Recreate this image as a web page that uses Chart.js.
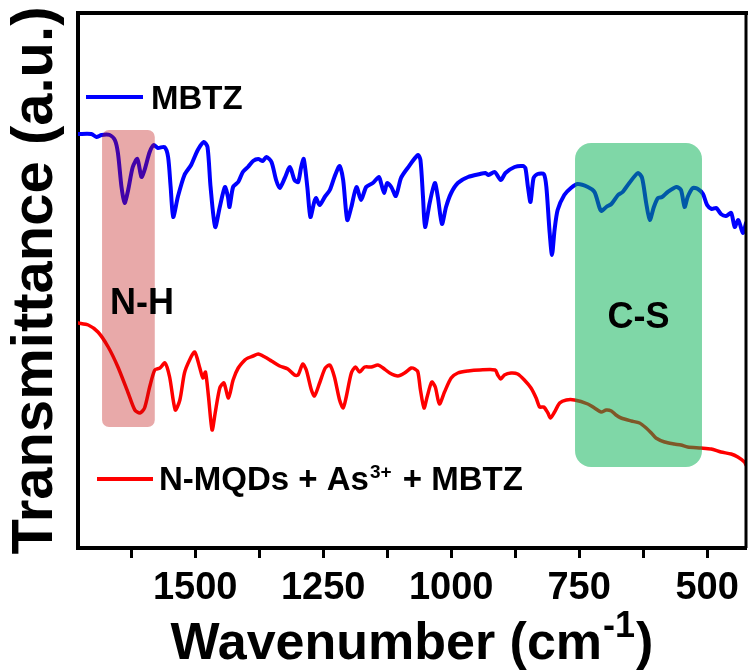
<!DOCTYPE html>
<html>
<head>
<meta charset="utf-8">
<script src="https://cdn.jsdelivr.net/npm/chart.js@4.4.1/dist/chart.umd.min.js"></script>
<style>
  html, body { margin: 0; padding: 0; background: #fff; }
  canvas { display: block; }
</style>
</head>
<body>
<canvas id="ftir" width="750" height="671"></canvas>
<script>
// FTIR spectra, wavenumber (cm-1) vs transmittance (a.u.)
const waveMBTZ = [
  1729, 1703, 1693, 1683, 1667, 1657, 1651, 1644, 1638, 1631,
  1622, 1613, 1605, 1599, 1589, 1581, 1573, 1560, 1553, 1548,
  1543, 1534, 1521, 1508, 1495, 1483, 1476, 1470, 1461, 1452,
  1442, 1436, 1433, 1426, 1416, 1407, 1397, 1387, 1377, 1368,
  1361, 1351, 1342, 1335, 1325, 1315, 1306, 1299, 1293, 1288,
  1281, 1275, 1268, 1264, 1257, 1247, 1237, 1228, 1218, 1211,
  1203, 1195, 1185, 1176, 1166, 1153, 1141, 1137, 1131, 1125,
  1117, 1108, 1098, 1085, 1065, 1060, 1055, 1051, 1042, 1032,
  1026, 1018, 1010, 1000, 987, 967, 944, 933, 927, 915,
  903, 894, 876, 860, 855, 850, 845, 839, 831, 819,
  814, 808, 803, 798, 792, 779, 766, 753, 733, 720,
  710, 706, 697, 687, 674, 665, 652, 635, 627, 619,
  612, 604, 596, 588, 577, 560, 551, 544, 538, 528,
  518, 508, 500, 491, 482, 473, 463, 453, 446, 439,
  430, 424
];
const tMBTZ = [
  414, 414, 411, 413, 413, 408, 395, 361, 345, 358,
  381, 389, 371, 378, 396, 403, 400, 401, 391, 361,
  331, 351, 373, 383, 398, 406, 401, 361, 321, 341,
  361, 351, 341, 361, 366, 376, 381, 387, 389, 387,
  391, 386, 368, 360, 370, 381, 368, 366, 381, 389,
  361, 331, 345, 350, 343, 351, 358, 371, 382, 368,
  328, 341, 361, 348, 361, 365, 371, 365, 355, 365,
  361, 352, 370, 380, 393, 388, 351, 321, 345, 365,
  351, 324, 341, 355, 365, 371, 374, 375, 373, 376,
  368, 375, 381, 382, 380, 361, 346, 370, 374, 374,
  361, 318, 293, 318, 338, 353, 360, 364, 361, 356,
  340, 337, 341, 344, 353, 356, 365, 375, 370, 345,
  328, 341, 350, 351, 356, 361, 358, 341, 351, 360,
  359, 354, 343, 339, 340, 334, 332, 335, 321, 328,
  315, 325
];
const waveMix = [
  1729, 1709, 1690, 1670, 1651, 1631, 1618, 1608, 1599, 1589,
  1579, 1569, 1559, 1550, 1539, 1530, 1521, 1511, 1501, 1491,
  1485, 1480, 1474, 1467, 1461, 1452, 1444, 1435, 1426, 1416,
  1403, 1397, 1387, 1377, 1364, 1351, 1335, 1319, 1306, 1299,
  1290, 1283, 1273, 1267, 1257, 1246, 1237, 1228, 1218, 1211,
  1205, 1195, 1187, 1179, 1169, 1156, 1143, 1133, 1120, 1104,
  1091, 1078, 1071, 1065, 1060, 1053, 1047, 1038, 1031, 1023,
  1013, 1000, 987, 967, 944, 914, 909, 903, 896, 883,
  870, 857, 844, 834, 827, 819, 811, 806, 798, 788,
  775, 759, 733, 720, 707, 697, 687, 678, 668, 648,
  632, 619, 609, 600, 583, 564, 551, 538, 512, 492,
  473, 453, 440, 427, 424
];
const tMix = [
  225, 223, 216, 201, 181, 155, 138, 135, 140, 161,
  178, 180, 185, 171, 138, 148, 175, 188, 196, 180,
  170, 176, 151, 118, 135, 160, 165, 150, 168, 180,
  188, 190, 192, 194, 191, 187, 182, 179, 173, 173,
  184, 178, 158, 152, 165, 180, 183, 171, 148, 140,
  151, 175, 181, 176, 181, 181, 183, 180, 175, 172,
  175, 180, 179, 176, 158, 140, 151, 166, 161, 144,
  156, 170, 175, 177, 178, 178, 173, 169, 173, 175,
  174, 168, 160, 150, 141, 141, 135, 130, 136, 145,
  148, 148, 144, 140, 136, 138, 137, 133, 130, 127,
  125, 120, 115, 110, 106, 104, 103, 101, 100, 99,
  96, 94, 91, 86, 83
];
const tickVals = [1625, 1500, 1375, 1250, 1125, 1000, 875, 750, 625, 500];
const labelVals = [1500, 1250, 1000, 750, 500];

// shaded bands (wavenumber range, transmittance range)
const bandNames = ['N-H', 'C-S'];
const bandFrom = [1682, 758];
const bandTo = [1579, 510];
const bandLow = [121, 81];
const bandHigh = [418, 405];

const FONT = '"Liberation Sans", Arial, sans-serif';
const bandColors = ['rgba(190,10,10,0.35)', 'rgba(0,176,80,0.5)'];

const toPoints = (xs, ys) => xs.map((v, i) => ({x: v, y: ys[i]}));

const decor = {
  id: 'decor',
  afterDatasetsDraw(chart) {
    const {ctx, chartArea: a, scales: {x, y}} = chart;
    ctx.save();
    bandNames.forEach((name, i) => {
      const x0 = x.getPixelForValue(bandFrom[i]);
      const x1 = x.getPixelForValue(bandTo[i]);
      const y0 = y.getPixelForValue(bandHigh[i]);
      const y1 = y.getPixelForValue(bandLow[i]);
      ctx.fillStyle = bandColors[i];
      ctx.beginPath();
      ctx.roundRect(x0, y0, x1 - x0, y1 - y0, i === 0 ? 7 : 16);
      ctx.fill();
      ctx.fillStyle = '#000';
      ctx.font = 'bold 36px ' + FONT;
      ctx.textBaseline = 'alphabetic';
      if (i === 0) {
        ctx.textAlign = 'left';
        ctx.fillText(name, x0 + 8, y0 + 184);
      } else {
        ctx.textAlign = 'center';
        ctx.fillText(name, (x0 + x1) / 2, y0 + 185);
      }
    });

    // legend entries inside the plot
    ctx.lineWidth = 4;
    ctx.lineCap = 'butt';
    ctx.strokeStyle = '#0000ff';
    ctx.beginPath();
    ctx.moveTo(a.left + 8, 97);
    ctx.lineTo(a.left + 65, 97);
    ctx.stroke();
    ctx.strokeStyle = '#ff0000';
    ctx.beginPath();
    ctx.moveTo(a.left + 19, 479);
    ctx.lineTo(a.left + 75, 479);
    ctx.stroke();

    ctx.fillStyle = '#000';
    ctx.textAlign = 'left';
    ctx.font = 'bold 33px ' + FONT;
    ctx.fillText('MBTZ', a.left + 73, 109);
    let tx = a.left + 81;
    ctx.fillText('N-MQDs + As', tx, 490);
    tx += ctx.measureText('N-MQDs + As').width + 1;
    ctx.font = 'bold 19px ' + FONT;
    ctx.fillText('3+', tx, 478);
    tx += ctx.measureText('3+').width + 2;
    ctx.font = 'bold 33px ' + FONT;
    ctx.fillText(' + MBTZ', tx, 490);

    // top and right frame lines
    ctx.strokeStyle = '#000';
    ctx.lineWidth = 4;
    ctx.beginPath();
    ctx.moveTo(a.left - 2, a.top);
    ctx.lineTo(a.right + 2, a.top);
    ctx.stroke();
    ctx.lineWidth = 3;
    ctx.beginPath();
    ctx.moveTo(a.right, a.top);
    ctx.lineTo(a.right, a.bottom);
    ctx.stroke();

    // x axis title with superscript
    const main1 = 'Wavenumber (cm', sup = '-1', main2 = ')';
    ctx.font = 'bold 52px ' + FONT;
    const w1 = ctx.measureText(main1).width, w3 = ctx.measureText(main2).width;
    ctx.font = 'bold 36px ' + FONT;
    const w2 = ctx.measureText(sup).width;
    let sx = (a.left + a.right) / 2 - (w1 + w2 + w3 + 2) / 2;
    ctx.font = 'bold 52px ' + FONT;
    ctx.fillText(main1, sx, 659);
    ctx.font = 'bold 36px ' + FONT;
    ctx.fillText(sup, sx + w1 + 1, 637);
    ctx.font = 'bold 52px ' + FONT;
    ctx.fillText(main2, sx + w1 + w2 + 2, 659);
    ctx.restore();
  }
};

const chart = new Chart(document.getElementById('ftir'), {
  type: 'line',
  data: {
    datasets: [
      {label: 'MBTZ', data: toPoints(waveMBTZ, tMBTZ), borderColor: '#0000ff', borderWidth: 4},
      {label: 'N-MQDs + As3+ + MBTZ', data: toPoints(waveMix, tMix), borderColor: '#ff0000', borderWidth: 3.5}
    ]
  },
  options: {
    responsive: false,
    animation: false,
    layout: {padding: {top: 13, right: 4, left: 0, bottom: 0}},
    elements: {
      point: {radius: 0},
      line: {tension: 0.25, borderJoinStyle: 'round', borderCapStyle: 'round'}
    },
    plugins: {legend: {display: false}, tooltip: {enabled: false}},
    scales: {
      x: {
        type: 'linear',
        reverse: true,
        min: 424,
        max: 1729,
        afterBuildTicks: s => { s.ticks = tickVals.map(v => ({value: v})); },
        afterFit: s => { s.height = 123; },
        grid: {drawOnChartArea: false, drawTicks: true, tickLength: 10, tickWidth: 3, tickColor: '#000'},
        border: {display: true, width: 4, color: '#000'},
        ticks: {
          autoSkip: false,
          maxRotation: 0,
          padding: 8,
          color: '#000',
          font: {family: FONT, size: 38, weight: 'bold'},
          callback: v => labelVals.includes(v) ? String(v) : ''
        }
      },
      y: {
        min: 0,
        max: 535,
        afterFit: s => { s.width = 78; },
        grid: {drawOnChartArea: false, drawTicks: false},
        border: {display: true, width: 4, color: '#000'},
        ticks: {display: false},
        title: {
          display: true,
          text: 'Transmittance (a.u.)',
          color: '#000',
          padding: {top: 1, bottom: 0},
          font: {family: FONT, size: 58, weight: 'bold'}
        }
      }
    }
  },
  plugins: [decor]
});
</script>
</body>
</html>
